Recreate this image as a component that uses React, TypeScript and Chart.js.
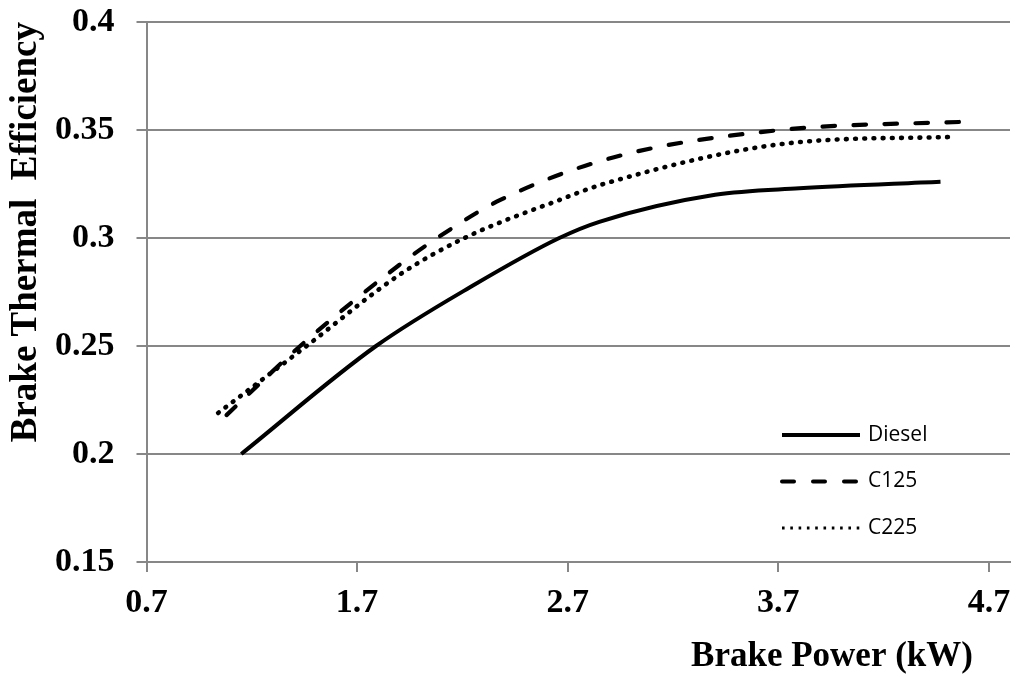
import React, { useEffect, useRef } from 'react';
import { Chart, registerables } from 'chart.js';

Chart.register(...registerables);

// ---- data ----
const seriesNames = ['Diesel', 'C125', 'C225'];

const dieselPower = [1.15, 1.79, 2.25, 2.66, 2.85, 3.4, 3.8, 4.47];
const dieselBTE = [0.2, 0.25, 0.278, 0.3, 0.3075, 0.32, 0.323, 0.326];

const c125Power = [1.08, 1.43, 1.9, 2.08, 2.38, 2.92, 3.71, 4.63];
const c125BTE = [0.218, 0.25, 0.2875, 0.3, 0.3176, 0.3374, 0.35, 0.354];

const c225Power = [1.04, 1.46, 1.9, 2.21, 2.66, 2.88, 3.77, 4.53];
const c225BTE = [0.219, 0.25, 0.2829, 0.3, 0.3176, 0.3253, 0.3441, 0.3468];

const xTicks = [0.7, 1.7, 2.7, 3.7, 4.7];
const yTicks = [0.15, 0.2, 0.25, 0.3, 0.35, 0.4];

const xTitle = 'Brake Power (kW)';
const yTitle = 'Brake Thermal  Efficiency';

const SERIF = '"Liberation Serif", "Times New Roman", serif';
const SANS = '"Open Sans", "Noto Sans", sans-serif';
const GRID = '#878787';

const lineStyles = [
  { dash: [] as number[], width: 4, cap: 'butt' as CanvasLineCap },
  { dash: [12.5, 18.5], width: 4.2, cap: 'round' as CanvasLineCap },
  { dash: [0.8, 8.4], width: 4.6, cap: 'round' as CanvasLineCap },
];

const legendStyles = [
  { dash: [] as number[], width: 4, cap: 'butt' as CanvasLineCap },
  { dash: [12, 19], width: 4, cap: 'round' as CanvasLineCap },
  { dash: [2.6, 5.7], width: 2.8, cap: 'butt' as CanvasLineCap },
];

const toPoints = (xs: number[], ys: number[]) => xs.map((x, i) => ({ x, y: ys[i] }));

const overlayPlugin = {
  id: 'overlay',
  afterDraw(chart: any) {
    const { ctx, chartArea } = chart;
    ctx.save();
    // legend (inside plot, bottom right)
    const lx0 = chartArea.right - 228;
    const lx1 = chartArea.right - 150;
    const ly0 = chartArea.bottom - 127;
    seriesNames.forEach((name, i) => {
      const y = ly0 + i * 46.5;
      const st = legendStyles[i];
      ctx.beginPath();
      ctx.setLineDash(st.dash);
      ctx.lineWidth = st.width;
      ctx.lineCap = st.cap;
      ctx.strokeStyle = '#000';
      ctx.moveTo(lx0, y);
      ctx.lineTo(lx1, y);
      ctx.stroke();
      ctx.setLineDash([]);
      ctx.fillStyle = '#000';
      ctx.font = `21px ${SANS}`;
      ctx.textAlign = 'left';
      ctx.textBaseline = 'middle';
      ctx.fillText(name, lx1 + 8, y);
    });
    // x axis title
    ctx.font = `bold 35px ${SERIF}`;
    ctx.textAlign = 'center';
    ctx.textBaseline = 'middle';
    ctx.fillStyle = '#000';
    ctx.fillText(xTitle, chartArea.right - 178, chartArea.bottom + 95);
    ctx.restore();
  },
};

export default function App() {
  const canvasRef = useRef<HTMLCanvasElement | null>(null);

  useEffect(() => {
    document.body.style.margin = '0';
    const canvas = canvasRef.current;
    if (!canvas) return;
    const allSeries = [
      toPoints(dieselPower, dieselBTE),
      toPoints(c125Power, c125BTE),
      toPoints(c225Power, c225BTE),
    ];
    const chart = new Chart(canvas, {
      type: 'line',
      data: {
        datasets: allSeries.map((pts, i) => ({
          label: seriesNames[i],
          data: pts,
          borderColor: '#000',
          backgroundColor: '#000',
          borderWidth: lineStyles[i].width,
          borderDash: lineStyles[i].dash,
          borderCapStyle: lineStyles[i].cap,
          pointRadius: 0,
          pointHoverRadius: 0,
          fill: false,
          cubicInterpolationMode: 'monotone',
        })),
      },
      options: {
        animation: false,
        responsive: true,
        maintainAspectRatio: false,
        layout: { padding: { top: 22, right: 3, left: 0, bottom: 0 } },
        plugins: {
          legend: { display: false },
          tooltip: { enabled: false },
        },
        scales: {
          x: {
            type: 'linear',
            min: 0.7,
            max: 4.8,
            afterBuildTicks: (s: any) => {
              s.ticks = xTicks.map((v) => ({ value: v }));
            },
            afterFit: (s: any) => {
              s.height = 115;
              s.paddingLeft = 0;
              s.paddingRight = 0;
            },
            ticks: {
              autoSkip: false,
              maxRotation: 0,
              color: '#000',
              padding: 11,
              font: { family: SERIF, size: 34, weight: 'bold' },
              callback: (v: any) => Number(v).toFixed(1),
            },
            grid: {
              drawOnChartArea: false,
              drawTicks: true,
              tickLength: 10,
              color: GRID,
              lineWidth: 2,
            },
            border: { display: true, color: GRID, width: 2 },
          },
          y: {
            type: 'linear',
            min: 0.15,
            max: 0.4,
            afterBuildTicks: (s: any) => {
              s.ticks = yTicks.map((v) => ({ value: v }));
            },
            afterFit: (s: any) => {
              s.width = 146.5;
              s.paddingTop = 0;
              s.paddingBottom = 0;
            },
            ticks: {
              color: '#000',
              padding: 22,
              font: { family: SERIF, size: 34, weight: 'bold' },
              callback: (v: any) => String(Number(Number(v).toFixed(2))),
            },
            grid: {
              drawOnChartArea: true,
              drawTicks: true,
              tickLength: 10,
              color: GRID,
              lineWidth: 2,
            },
            border: { display: true, color: GRID, width: 2 },
            title: {
              display: true,
              text: yTitle,
              align: 'end',
              color: '#000',
              font: { family: SERIF, size: 37, weight: 'bold' },
              padding: { top: 4, bottom: 0 },
            },
          },
        },
      },
      plugins: [overlayPlugin],
    } as any);
    return () => chart.destroy();
  }, []);

  return (
    <div style={{ width: 1013, height: 677, position: 'relative' }}>
      <canvas ref={canvasRef} />
    </div>
  );
}
